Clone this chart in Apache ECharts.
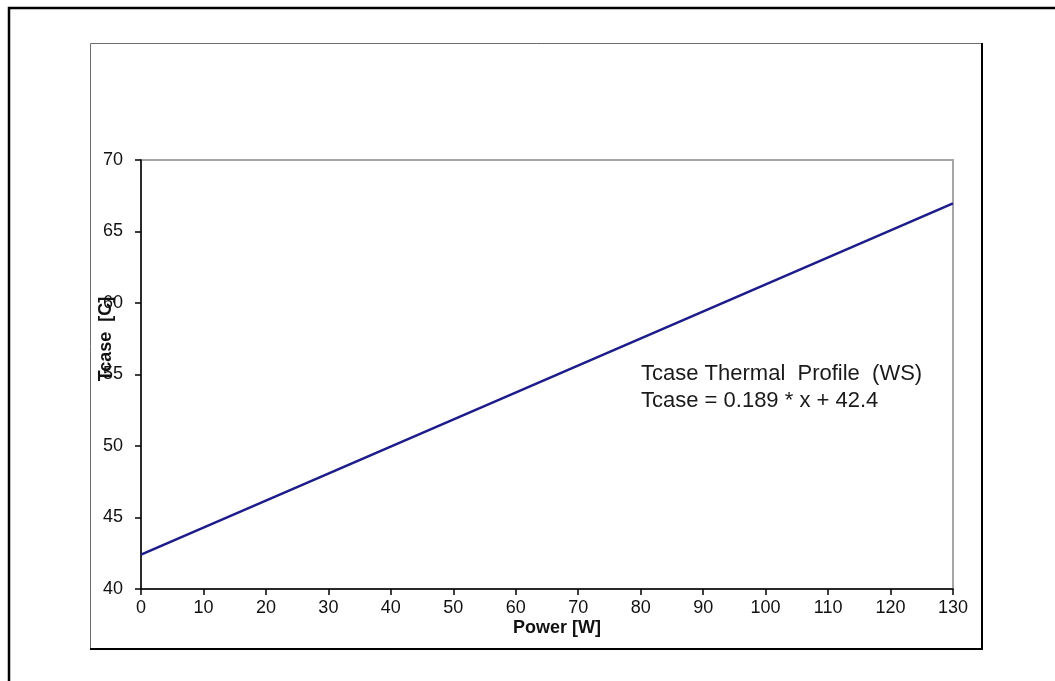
<!DOCTYPE html>
<html>
<head>
<meta charset="utf-8">
<script src="https://cdn.jsdelivr.net/npm/echarts@6/dist/echarts.min.js"></script>
<style>
  html, body { margin: 0; padding: 0; background: #fff; }
  #chart { width: 1055px; height: 681px; }
</style>
</head>
<body>
<div id="chart"></div>
<script>
// power [W] and case temperature [C] at the ends of the drawn line
const powerW = [0, 130]
const tcaseC = [42.4, 66.97]
const xTicks = { min: 0, max: 130, interval: 10 }
const yTicks = { min: 40, max: 70, interval: 5 }
const noteLines = ['Tcase Thermal  Profile  (WS)', 'Tcase = 0.189 * x + 42.4']

const font = 'Liberation Sans, Arial, sans-serif'
const points = powerW.map((x, i) => [x, tcaseC[i]])

const chart = echarts.init(document.getElementById('chart'), null, { renderer: 'canvas' })

const option = {
  animation: false,
  backgroundColor: '#fff',
  grid: {
    left: 141,
    top: 160,
    right: 102,
    bottom: 92,
    show: true,
    borderColor: '#a6a6a6',
    borderWidth: 2
  },
  xAxis: {
    type: 'value',
    min: xTicks.min,
    max: xTicks.max,
    interval: xTicks.interval,
    splitLine: { show: false },
    axisLine: { lineStyle: { color: '#000', width: 1.5 } },
    axisTick: { show: true, length: 6, lineStyle: { color: '#000', width: 1.5 } },
    axisLabel: { color: '#111', fontFamily: font, fontSize: 18, margin: 10 }
  },
  yAxis: {
    type: 'value',
    min: yTicks.min,
    max: yTicks.max,
    interval: yTicks.interval,
    splitLine: { show: false },
    axisLine: { show: true, lineStyle: { color: '#000', width: 1.5 } },
    axisTick: { show: true, length: 6, lineStyle: { color: '#000', width: 1.5 } },
    axisLabel: { color: '#111', fontFamily: font, fontSize: 18, margin: 18 }
  },
  series: [{
    type: 'line',
    data: points,
    showSymbol: false,
    lineStyle: { color: '#1c1c8a', width: 2.5 }
  }],
  graphic: [
    // outer page border
    { type: 'polyline', shape: { points: [[9, 700], [9, 8], [1060, 8]] },
      style: { stroke: '#000', lineWidth: 2.5, fill: null } },
    // chart frame
    { type: 'polyline', shape: { points: [[90.5, 649], [90.5, 43.5], [982, 43.5]] },
      style: { stroke: '#6e6e6e', lineWidth: 1, fill: null } },
    { type: 'polyline', shape: { points: [[982, 43], [982, 649], [90, 649]] },
      style: { stroke: '#000', lineWidth: 2, fill: null } },
    // axis titles
    { type: 'text', x: 106, y: 339, rotation: Math.PI / 2,
      style: { text: 'Tcase  [C]', font: 'bold 18px ' + font, fill: '#111',
        align: 'center', verticalAlign: 'middle' } },
    { type: 'text', x: 557, y: 628,
      style: { text: 'Power [W]', font: 'bold 18px ' + font, fill: '#111',
        align: 'center', verticalAlign: 'middle' } },
    // annotation
    { type: 'text', x: 641, y: 374,
      style: { text: noteLines[0], font: '22px ' + font, fill: '#1a1a1a',
        align: 'left', verticalAlign: 'middle' } },
    { type: 'text', x: 641, y: 401,
      style: { text: noteLines[1], font: '22px ' + font, fill: '#1a1a1a',
        align: 'left', verticalAlign: 'middle' } }
  ]
}

chart.setOption(option)
</script>
</body>
</html>
